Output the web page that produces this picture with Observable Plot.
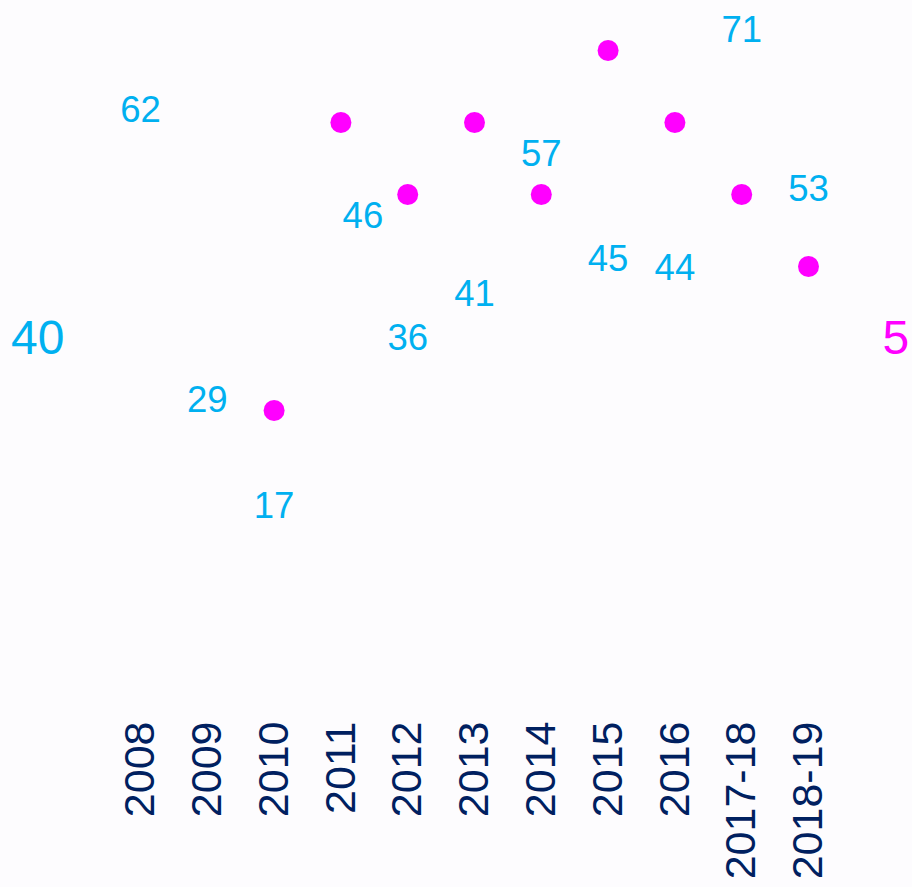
<!DOCTYPE html>
<html>
<head>
<meta charset="utf-8">
<script src="https://cdn.jsdelivr.net/npm/d3@7"></script>
<script src="https://cdn.jsdelivr.net/npm/@observablehq/plot@0.6"></script>
<style>
  html, body { margin: 0; padding: 0; background: #fdfcfe; }
  #chart { position: relative; width: 912px; height: 887px; overflow: hidden; }
  #chart svg { position: absolute; left: 0; top: 0; }
</style>
</head>
<body>
<div id="chart"></div>
<script>
const categories = ["2008", "2009", "2010", "2011", "2012", "2013", "2014", "2015", "2016", "2017-18", "2018-19"];
const blueValues = [62, 29, 17, 46, 36, 41, 57, 45, 44, 71, 53];
const magentaValues = [null, null, 4, 8, 7, 8, 7, 9, 8, 7, 6];
const leftTicks = [40];
const rightTicks = [5];

const blueData = categories.map((c, i) => ({year: c, value: blueValues[i]}));
const magentaData = categories.map((c, i) => ({year: c, value: magentaValues[i]})).filter(d => d.value != null);

const BLUE = "#00b0f0", MAGENTA = "#ff00ff", NAVY = "#002060";
const font = "'Liberation Sans', Arial, sans-serif";
const common = {
  width: 912, height: 887,
  marginLeft: 140, marginRight: 104, marginTop: 0, marginBottom: 172,
  style: {background: "transparent", fontFamily: font, overflow: "visible"}
};

const blueStep = 8.8;
const plotA = Plot.plot({
  ...common,
  x: {type: "point", domain: categories, padding: 0, round: false},
  y: {domain: [40, 70], range: [338, 338 - 30 * blueStep]},
  marks: [
    Plot.axisX({tickRotate: -90, tickSize: 0, tickPadding: 6, fontSize: 43, fill: NAVY, label: null}),
    Plot.axisY({ticks: leftTicks, anchor: "left", tickSize: 0, tickPadding: 76, fontSize: 48, fill: BLUE, label: null}),
    Plot.text(blueData.filter(d => d.year !== "2011"), {x: "year", y: "value", text: d => String(d.value), dy: -35, fontSize: 36.5, fill: BLUE}),
    Plot.text(blueData.filter(d => d.year === "2011"), {x: "year", y: "value", text: d => String(d.value), dx: 22, dy: -69, fontSize: 36.5, fill: BLUE})
  ]
});

const plotB = Plot.plot({
  ...common,
  x: {type: "point", domain: categories, padding: 0, round: false, axis: null},
  y: {domain: [5, 9], range: [338, 338 - 4 * 72]},
  marks: [
    Plot.axisY({ticks: rightTicks, anchor: "right", tickSize: 0, tickPadding: 74, fontSize: 48, fill: MAGENTA, label: null}),
    Plot.dot(magentaData, {x: "year", y: "value", r: 10.5, fill: MAGENTA, stroke: "none"})
  ]
});

const chart = document.getElementById("chart");
chart.appendChild(plotA);
chart.appendChild(plotB);
</script>
</body>
</html>
